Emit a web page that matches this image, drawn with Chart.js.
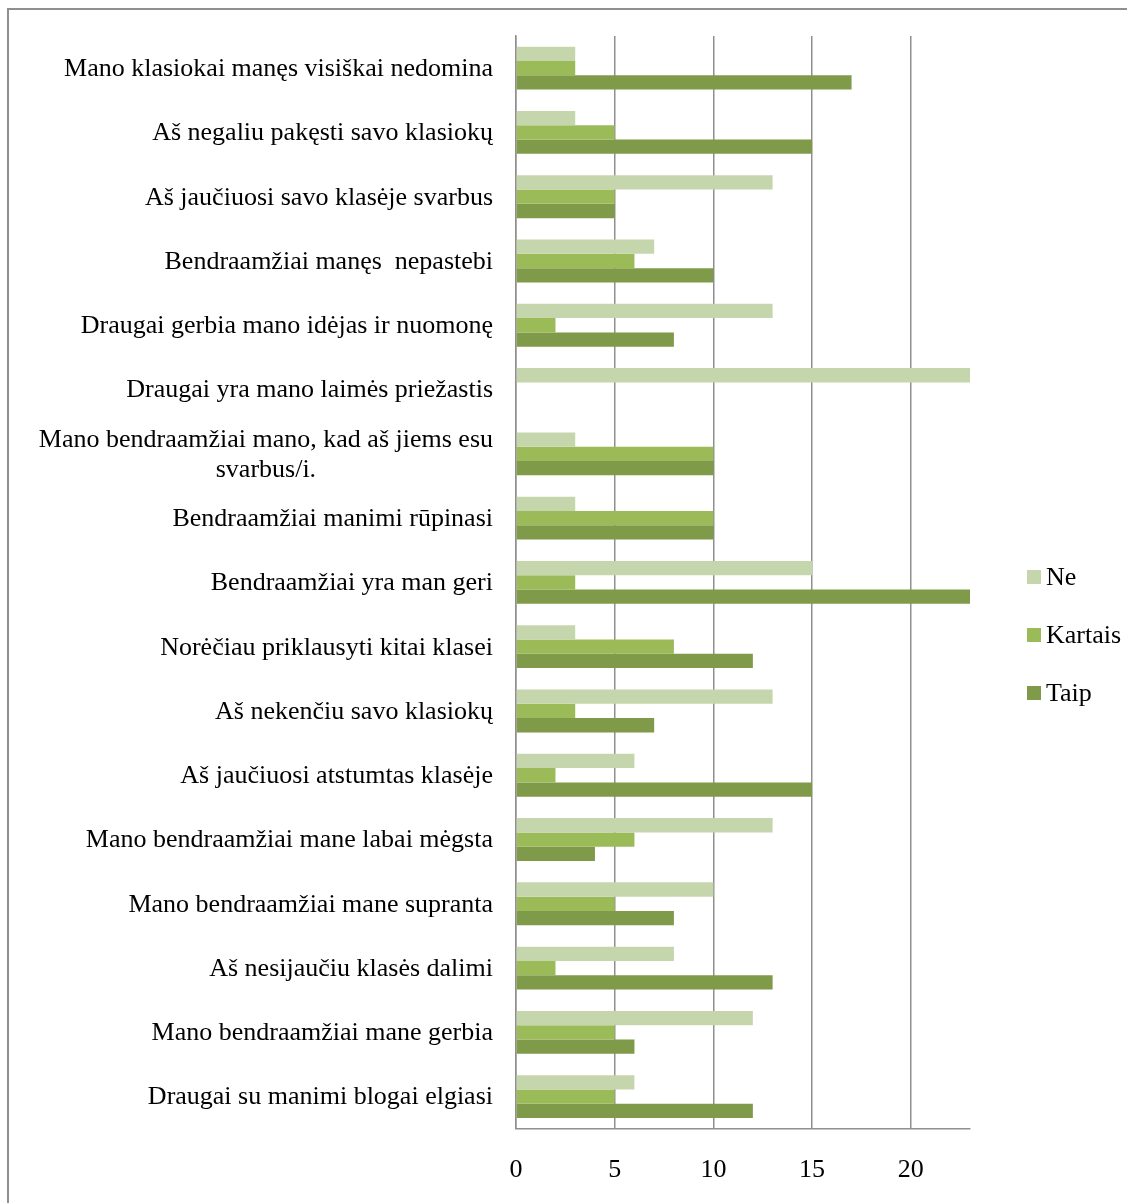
<!DOCTYPE html>
<html>
<head>
<meta charset="utf-8">
<script src="https://cdn.jsdelivr.net/npm/chart.js@4.4.1/dist/chart.umd.min.js"></script>
<style>
  html, body { margin: 0; padding: 0; background: #fff; overflow: hidden; }
  #frame { position: absolute; left: 7px; top: 8px; width: 1200px; height: 1300px;
           border-left: 2px solid #8f8f8f; border-top: 2px solid #8f8f8f; }
  #c { position: absolute; left: 0; top: 0; }
</style>
</head>
<body>
<div id="frame"></div>
<canvas id="c" width="1127" height="1230"></canvas>
<script>
const categories = [
  "Mano klasiokai manęs visiškai nedomina",
  "Aš negaliu pakęsti savo klasiokų",
  "Aš jaučiuosi savo klasėje svarbus",
  "Bendraamžiai manęs  nepastebi",
  "Draugai gerbia mano idėjas ir nuomonę",
  "Draugai yra mano laimės priežastis",
  ["Mano bendraamžiai mano, kad aš jiems esu", "svarbus/i."],
  "Bendraamžiai manimi rūpinasi",
  "Bendraamžiai yra man geri",
  "Norėčiau priklausyti kitai klasei",
  "Aš nekenčiu savo klasiokų",
  "Aš jaučiuosi atstumtas klasėje",
  "Mano bendraamžiai mane labai mėgsta",
  "Mano bendraamžiai mane supranta",
  "Aš nesijaučiu klasės dalimi",
  "Mano bendraamžiai mane gerbia",
  "Draugai su manimi blogai elgiasi"
];
const seriesNames = ["Ne", "Kartais", "Taip"];
const ne      = [3, 3, 13, 7, 13, 23, 3, 3, 15, 3, 13, 6, 13, 10, 8, 12, 6];
const kartais = [3, 5, 5, 6, 2, 0, 10, 10, 3, 8, 3, 2, 6, 5, 2, 5, 5];
const taip    = [17, 15, 5, 10, 8, 0, 10, 10, 23, 12, 7, 15, 4, 8, 13, 6, 12];
const xTicks  = [0, 5, 10, 15, 20];
const xMax = 23;
const colors = ["#C6D6AC", "#9BBB59", "#7F9A48"];

const FONT = "'Liberation Serif', 'Times New Roman', serif";
const FSIZE = 26;

const yLabelPlugin = {
  id: 'yLabels',
  afterDraw(chart) {
    const ctx = chart.ctx;
    const ys = chart.scales.y;
    const rightX = chart.chartArea.left - 23;
    ctx.save();
    ctx.font = FSIZE + "px " + FONT;
    ctx.fillStyle = "#000";
    ctx.textBaseline = "middle";
    chart.data.labels.forEach((lab, i) => {
      const yc = ys.getPixelForTick(i);
      const lines = Array.isArray(lab) ? lab : [lab];
      const lh = 30;
      const widths = lines.map(l => ctx.measureText(l).width);
      const maxW = Math.max(...widths);
      lines.forEach((l, k) => {
        const y = yc + (k - (lines.length - 1) / 2) * lh;
        ctx.textAlign = "center";
        ctx.fillText(l, rightX - maxW / 2, y + 1);
      });
    });
    ctx.restore();
  }
};

const legendPlugin = {
  id: 'sideLegend',
  afterDraw(chart) {
    const ctx = chart.ctx;
    ctx.save();
    ctx.font = FSIZE + "px " + FONT;
    ctx.textBaseline = "middle";
    ctx.textAlign = "left";
    const x0 = chart.chartArea.right + 57;
    const yStart = 577, step = 58;
    chart.data.datasets.forEach((ds, i) => {
      const y = yStart + i * step;
      ctx.fillStyle = ds.backgroundColor;
      ctx.fillRect(x0, y - 7, 14, 14);
      ctx.fillStyle = "#000";
      ctx.fillText(ds.label, x0 + 19, y + 1);
    });
    ctx.restore();
  }
};

new Chart(document.getElementById('c'), {
  type: 'bar',
  data: {
    labels: categories,
    datasets: [
      { label: seriesNames[0], data: ne, backgroundColor: colors[0] },
      { label: seriesNames[1], data: kartais, backgroundColor: colors[1] },
      { label: seriesNames[2], data: taip, backgroundColor: colors[2] }
    ]
  },
  options: {
    indexAxis: 'y',
    responsive: false,
    animation: false,
    events: [],
    datasets: { bar: { categoryPercentage: 0.667, barPercentage: 1.0, borderWidth: 0 } },
    layout: { padding: { left: 516, right: 157, top: 36, bottom: 18 } },
    plugins: { legend: { display: false }, tooltip: { enabled: false } },
    scales: {
      x: {
        min: 0, max: xMax,
        afterBuildTicks(scale) { scale.ticks = xTicks.map(v => ({ value: v })); },
        grid: { color: "#8f8f8f", lineWidth: 1.5, drawTicks: false },
        border: { color: "#8f8f8f", width: 1.5 },
        ticks: { color: "#000", padding: 26, font: { family: FONT, size: FSIZE } }
      },
      y: {
        grid: { display: false, drawTicks: false },
        border: { color: "#8f8f8f", width: 1.5 },
        ticks: { display: false }
      }
    }
  },
  plugins: [yLabelPlugin, legendPlugin]
});
</script>
</body>
</html>
